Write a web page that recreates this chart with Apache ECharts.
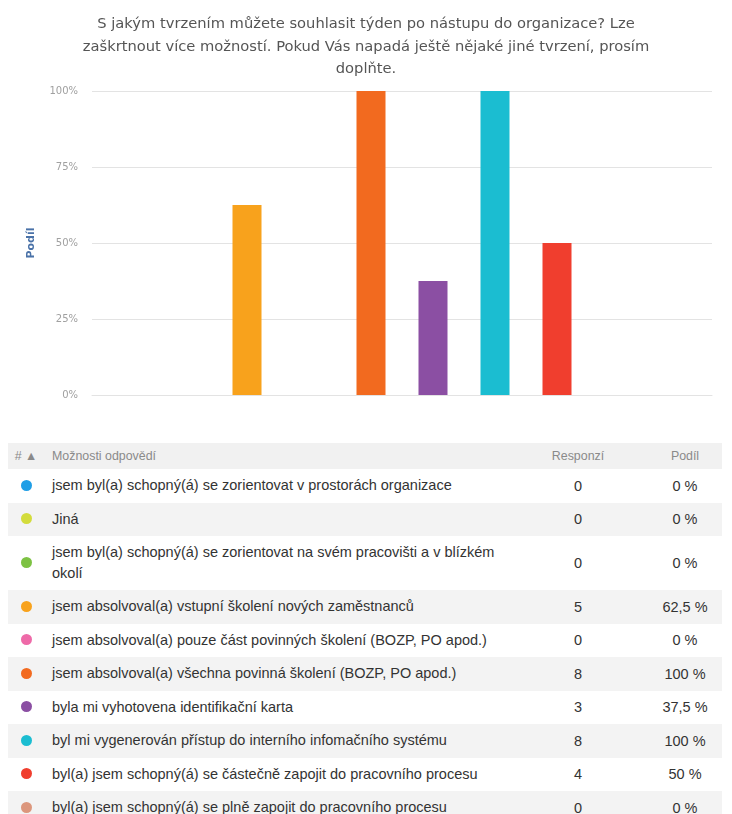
<!DOCTYPE html>
<html>
<head>
<meta charset="utf-8">
<script src="https://cdn.jsdelivr.net/npm/echarts@6/dist/echarts.min.js"></script>
<style>
  html, body { margin: 0; padding: 0; background: #fff; }
  #chart { width: 732px; height: 440px; }
  #tbl { position: absolute; left: 8px; top: 443px; width: 714px; border-collapse: collapse;
         font-family: "Liberation Sans", Arial, sans-serif; color: #333; table-layout: fixed; }
  #tbl th { font-weight: normal; font-size: 12.4px; color: #8a8a8a; height: 26px; background: #f1f1f1; padding: 0; }
  #tbl td { font-size: 14.5px; height: 33.5px; padding: 0; }
  #tbl tr.alt td { background: #f3f3f3; }
  #tbl .dot { display: inline-block; width: 11px; height: 11px; border-radius: 50%; }
  #tbl .c1 { text-align: center; }
  #tbl .c2 { text-align: left; padding-left: 8px; line-height: 21px; }
  #tbl .c3, #tbl .c4 { text-align: center; }
  #tbl .wrap { display: inline-block; max-width: 452px; }
</style>
</head>
<body>
<div id="chart"></div>
<table id="tbl"></table>
<script>
// Question title
const title = 'S jakým tvrzením můžete souhlasit týden po nástupu do organizace? Lze\nzaškrtnout více možností. Pokud Vás napadá ještě nějaké jiné tvrzení, prosím\ndoplňte.';

// Answer options (table order)
const answers = [
  'jsem byl(a) schopný(á) se zorientovat v prostorách organizace',
  'Jiná',
  'jsem byl(a) schopný(á) se zorientovat na svém pracovišti a v blízkém okolí',
  'jsem absolvoval(a) vstupní školení nových zaměstnanců',
  'jsem absolvoval(a) pouze část povinných školení (BOZP, PO apod.)',
  'jsem absolvoval(a) všechna povinná školení (BOZP, PO apod.)',
  'byla mi vyhotovena identifikační karta',
  'byl mi vygenerován přístup do interního infomačního systému',
  'byl(a) jsem schopný(á) se částečně zapojit do pracovního procesu',
  'byl(a) jsem schopný(á) se plně zapojit do pracovního procesu'
];
const responses = [0, 0, 0, 5, 0, 8, 3, 8, 4, 0];
const shares = [0, 0, 0, 62.5, 0, 100, 37.5, 100, 50, 0];
const shareLabels = ['0 %', '0 %', '0 %', '62,5 %', '0 %', '100 %', '37,5 %', '100 %', '50 %', '0 %'];
const colors = ['#1f9ee6', '#d3dc3c', '#7dc243', '#f8a21c', '#ee6aa8', '#f26a1f', '#8b4fa3', '#1bbdd1', '#f03e2e', '#dc967c'];

// Order of the answers along the chart's x axis (question order)
const chartOrder = [0, 2, 3, 4, 5, 6, 7, 8, 9, 1];

// Y axis ticks
const yTicks = [0, 25, 50, 75, 100];

const chart = echarts.init(document.getElementById('chart'), null, { renderer: 'canvas' });
chart.setOption({
  animation: false,
  title: {
    text: title,
    left: 'center',
    top: 8,
    textStyle: { fontFamily: 'DejaVu Sans', fontSize: 14.7, fontWeight: 'normal', color: '#555', lineHeight: 22.5 }
  },
  grid: { left: 92, right: 20, top: 91, bottom: 45, containLabel: false },
  xAxis: {
    type: 'category',
    data: chartOrder.map(i => answers[i]),
    axisLine: { show: true, lineStyle: { color: '#e3e3e3' } },
    axisTick: { show: false },
    axisLabel: { show: false }
  },
  yAxis: {
    type: 'value',
    min: yTicks[0],
    max: yTicks[yTicks.length - 1],
    interval: 25,
    name: 'Podíl',
    nameLocation: 'middle',
    nameRotate: 90,
    nameGap: 55,
    nameTextStyle: { fontFamily: 'DejaVu Sans', fontSize: 11, fontWeight: 'bold', color: '#4a72a8' },
    axisLine: { show: false },
    axisTick: { show: false },
    splitLine: { lineStyle: { color: '#e3e3e3', width: 1 } },
    axisLabel: { formatter: '{value}%', fontFamily: 'DejaVu Sans', fontSize: 10, color: '#a0a0a0', margin: 14 }
  },
  series: [{
    type: 'bar',
    barWidth: 29,
    data: chartOrder.map(i => ({ value: shares[i], itemStyle: { color: colors[i] } }))
  }]
});

// Answer table
const tbl = document.getElementById('tbl');
let html = '<colgroup><col style="width:36px"><col style="width:464px"><col style="width:140px"><col style="width:74px"></colgroup>';
html += '<tr><th class="c1">#&nbsp;&#9650;</th><th class="c2" style="padding-left:8px">Možnosti odpovědí</th><th class="c3">Responzí</th><th class="c4">Podíl</th></tr>';
answers.forEach((a, i) => {
  const tall = i === 2 ? ' style="height:54px"' : '';
  html += '<tr class="' + (i % 2 === 1 ? 'alt' : '') + '"' + tall + '>' +
    '<td class="c1"><span class="dot" style="background:' + colors[i] + '"></span></td>' +
    '<td class="c2"><span class="wrap">' + a + '</span></td>' +
    '<td class="c3">' + responses[i] + '</td>' +
    '<td class="c4">' + shareLabels[i] + '</td></tr>';
});
tbl.innerHTML = html;
</script>
</body>
</html>
